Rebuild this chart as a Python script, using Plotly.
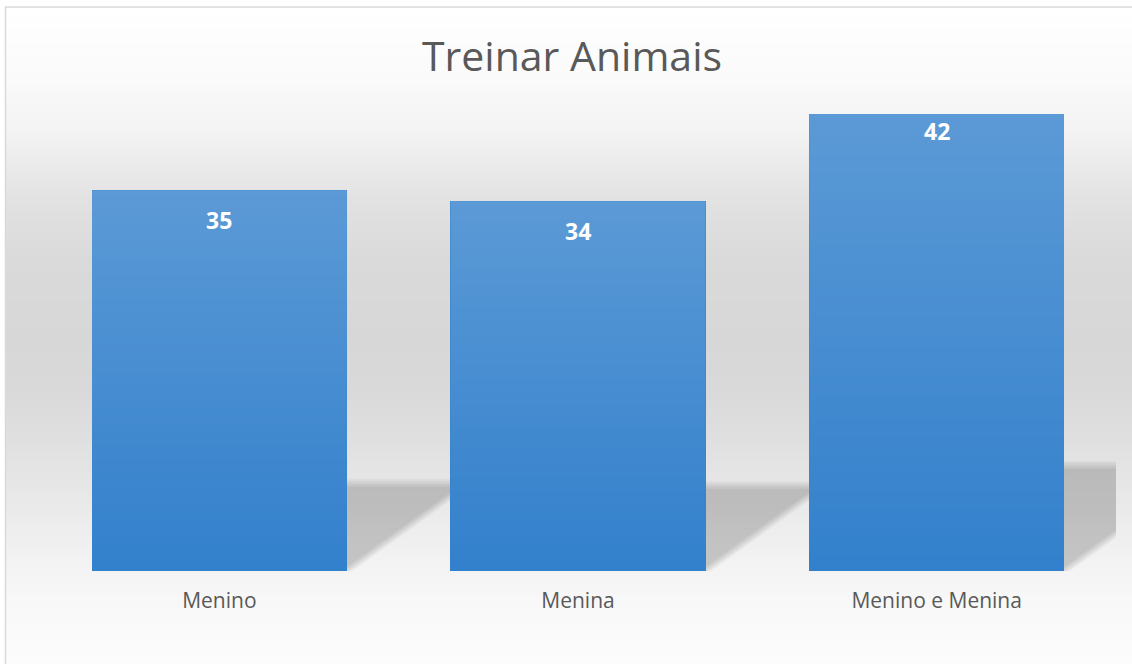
import base64
import struct
import zlib

import plotly.graph_objects as go

# ---- chart data -------------------------------------------------------
categories = ["Menino", "Menina", "Menino e Menina"]
values = [35, 34, 42]
chart_title = "Treinar Animais"

# ---- layout geometry (pixels) ------------------------------------------
FIG_W, FIG_H = 1132, 664
PLOT_LEFT, PLOT_RIGHT = 40, 1116
PLOT_BOTTOM, PLOT_TOP = 571, 81.4
Y_MAX = 45
BAR_WIDTH = 0.711
# distance from each bar's top down to the centre of its value label
LABEL_DROP_PX = [29.5, 30, 17]

TEXT_GRAY = "#595959"
BAR_BASE = "#3381cc"

x_px = (PLOT_RIGHT - PLOT_LEFT) / len(categories)   # pixels per x unit
y_px = (PLOT_BOTTOM - PLOT_TOP) / Y_MAX             # pixels per y unit


def png_uri(rows, channels):
    """Encode rows of raw pixel bytes as a PNG data URI."""
    width = len(rows[0]) // channels
    height = len(rows)
    raw = b"".join(b"\x00" + r for r in rows)

    def chunk(tag, data):
        body = tag + data
        return struct.pack(">I", len(data)) + body + struct.pack(">I", zlib.crc32(body) & 0xFFFFFFFF)

    ctype = 6 if channels == 4 else 2
    ihdr = struct.pack(">IIBBBBB", width, height, 8, ctype, 0, 0, 0)
    png = (b"\x89PNG\r\n\x1a\n" + chunk(b"IHDR", ihdr)
           + chunk(b"IDAT", zlib.compress(raw, 9)) + chunk(b"IEND", b""))
    return "data:image/png;base64," + base64.b64encode(png).decode()


def interp(stops, y):
    for (y0, g0), (y1, g1) in zip(stops, stops[1:]):
        if y0 <= y <= y1:
            return g0 + (g1 - g0) * (y - y0) / (y1 - y0)
    return stops[-1][1]


# chart-area background: light vertical gray gradient
BORDER_X, BORDER_Y = 5.5, 7
bg_stops = [(7, 255), (80, 250), (130, 243), (160, 236), (200, 226), (260, 218),
            (340, 215), (390, 217), (420, 221), (470, 228), (520, 236),
            (565, 243), (600, 248), (664, 252)]
bg_rows = []
for yy in range(BORDER_Y, FIG_H):
    g = int(round(interp(bg_stops, yy + 0.5)))
    bg_rows.append(bytes([g, g, g]))
bg_uri = png_uri(bg_rows, 3)

# bar sheen: white fading from the top of each bar down to nothing
sheen_rows = []
N_SHEEN = 128
for r in range(N_SHEEN):
    a = int(round(255 * 0.2 * (1 - r / (N_SHEEN - 1))))
    sheen_rows.append(bytes([255, 255, 255, a]))
sheen_uri = png_uri(sheen_rows, 4)

fig = go.Figure()

xs = list(range(len(categories)))
fig.add_trace(go.Bar(
    x=xs,
    y=values,
    width=BAR_WIDTH,
    marker=dict(color=BAR_BASE, line=dict(width=0)),
    hoverinfo="x+y",
    showlegend=False,
))

images = [dict(
    source=bg_uri, xref="paper", yref="paper",
    x=(BORDER_X + 0.5) / FIG_W, y=1 - BORDER_Y / FIG_H,
    sizex=1, sizey=(FIG_H - BORDER_Y) / FIG_H,
    xanchor="left", yanchor="top", sizing="stretch", layer="below",
)]

shapes = []
annotations = []

# perspective shadow cast to the right of each bar, softened in layers
SHADOW_RATIO = 0.232
SHADOW_SLOPE = 0.72
soft_offsets = [-4, -2, 0, 2, 4]
for i, v in enumerate(values):
    xl = i - BAR_WIDTH / 2
    xr = i + BAR_WIDTH / 2
    for o in soft_offsets:
        top_px = SHADOW_RATIO * v * y_px + o
        top = top_px / y_px
        run = top_px / SHADOW_SLOPE / x_px
        ox = 1.4 * o / x_px
        path = (f"M{xl},0 L{xr + ox},0 L{xr + ox + run},{top} "
                f"L{xl + run},{top} Z")
        shapes.append(dict(type="path", xref="x", yref="y", path=path,
                           fillcolor="rgba(0,0,0,0.040)", line=dict(width=0),
                           layer="below"))

    images.append(dict(
        source=sheen_uri, xref="x", yref="y",
        x=xl, y=v, sizex=BAR_WIDTH, sizey=v,
        xanchor="left", yanchor="top", sizing="stretch", layer="above",
    ))

    annotations.append(dict(
        x=i, y=v, xref="x", yref="y", text=f"<b>{v}</b>", showarrow=False,
        yanchor="middle", yshift=-LABEL_DROP_PX[i],
        font=dict(family="Open Sans", size=23, color="white"),
    ))

# thin frame around the chart
shapes.append(dict(type="rect", xref="paper", yref="paper",
                   x0=BORDER_X / FIG_W, x1=1.05,
                   y0=-0.05, y1=1 - BORDER_Y / FIG_H,
                   line=dict(color="#d9d9d9", width=1.5),
                   fillcolor="rgba(0,0,0,0)", layer="above"))

fig.update_layout(
    width=FIG_W,
    height=FIG_H,
    template="none",
    margin=dict(l=0, r=0, t=0, b=0),
    paper_bgcolor="white",
    plot_bgcolor="rgba(0,0,0,0)",
    title=dict(
        text=chart_title,
        x=572 / FIG_W, xref="container", xanchor="center",
        y=1 - 57 / FIG_H, yref="container", yanchor="middle",
        font=dict(family="Open Sans", size=41, color=TEXT_GRAY),
    ),
    xaxis=dict(
        domain=[PLOT_LEFT / FIG_W, PLOT_RIGHT / FIG_W],
        range=[-0.5, len(categories) - 0.5],
        tickmode="array", tickvals=xs, ticktext=categories,
        showgrid=False, zeroline=False, showline=False, ticks="",
        tickfont=dict(family="Open Sans", size=21, color=TEXT_GRAY),
        ticklabelstandoff=15,
        automargin=False, fixedrange=True,
    ),
    yaxis=dict(
        domain=[1 - PLOT_BOTTOM / FIG_H, 1 - PLOT_TOP / FIG_H],
        range=[0, Y_MAX],
        visible=False, showgrid=False, zeroline=False,
        automargin=False, fixedrange=True,
    ),
    images=images,
    shapes=shapes,
    annotations=annotations,
    bargap=0,
    showlegend=False,
)

fig.write_html("out.html", include_plotlyjs=True, config={"displayModeBar": False})
